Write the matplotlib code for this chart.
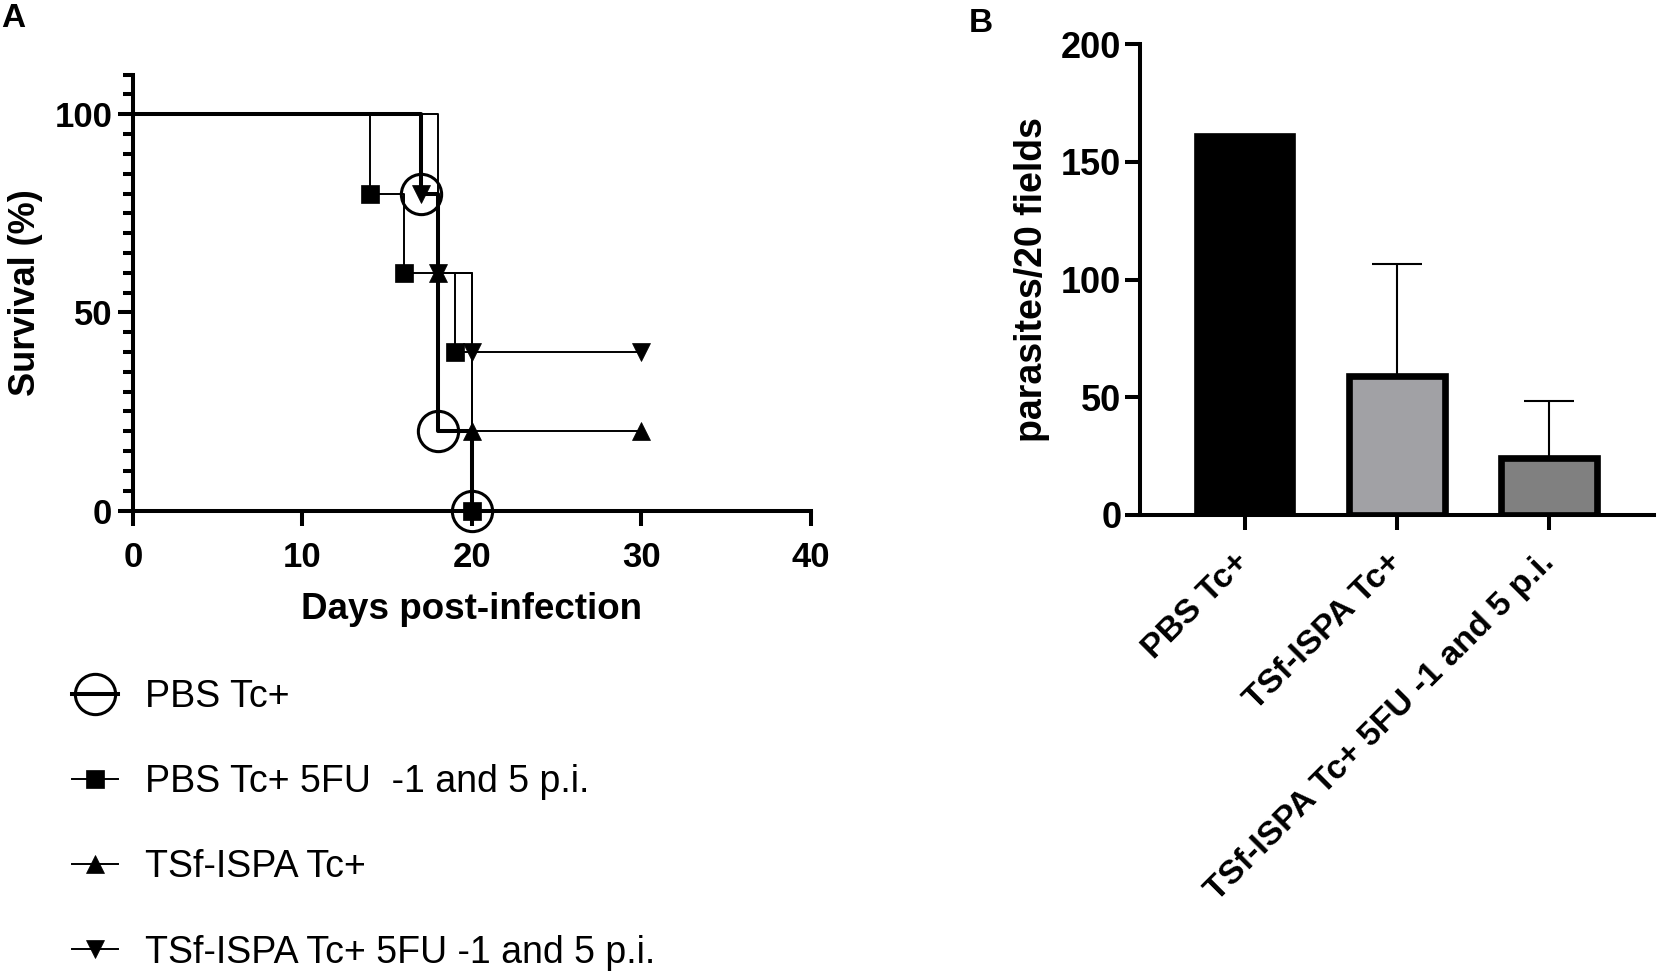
# -*- coding: utf-8 -*-
# survival after infection (A) and parasite counts (B)
import matplotlib
matplotlib.use('Agg')
import matplotlib.pyplot as plt
from matplotlib.ticker import MultipleLocator
from matplotlib.legend_handler import HandlerTuple

plt.rcParams['font.family'] = ['Liberation Sans', 'DejaVu Sans']

# panel A: Kaplan-Meier steps, days post-infection vs % survival
days_pbs = [0, 17, 18, 20]
surv_pbs = [100, 80, 20, 0]
days_pbs_5fu = [0, 14, 16, 19, 20]
surv_pbs_5fu = [100, 80, 60, 40, 0]
days_tsf = [0, 18, 20, 30]
surv_tsf = [100, 60, 20, 20]
days_tsf_5fu = [0, 17, 18, 20, 30]
surv_tsf_5fu = [100, 80, 60, 40, 40]
series_labels = ['PBS Tc+', 'PBS Tc+ 5FU  -1 and 5 p.i.',
                 'TSf-ISPA Tc+', 'TSf-ISPA Tc+ 5FU -1 and 5 p.i.']

# panel B: parasites / 20 fields (mean, upper error)
groups = ['PBS Tc+', 'TSf-ISPA Tc+', 'TSf-ISPA Tc+ 5FU -1 and 5 p.i.']
parasites = [161, 59, 24]
parasites_err = [0, 47.5, 24.3]
bar_colors = ['#000000', '#a1a1a5', '#808080']

fig = plt.figure(figsize=(16.57, 9.73), dpi=100)
ax1 = fig.add_axes([0.0803, 0.4753, 0.409, 0.448])
ax2 = fig.add_axes([0.6877, 0.4709, 0.3105, 0.4835])

# --- A ---
styles = [
    dict(marker='o', ms=29, mfc='none', mew=2.2, lw=2.9),
    dict(marker='s', ms=13, mfc='black', mew=0.5, lw=1.4),
    dict(marker='^', ms=13, mfc='black', mew=0.5, lw=1.4),
    dict(marker='v', ms=13, mfc='black', mew=0.5, lw=1.4),
]
all_days = [days_pbs, days_pbs_5fu, days_tsf, days_tsf_5fu]
all_surv = [surv_pbs, surv_pbs_5fu, surv_tsf, surv_tsf_5fu]
handles = []
for d, s, st in zip(all_days, all_surv, styles):
    line, = ax1.plot(d, s, drawstyle='steps-post', color='black', lw=st['lw'],
                     clip_on=False, zorder=3)
    marks, = ax1.plot(d[1:], s[1:], ls='none', marker=st['marker'], ms=st['ms'],
                      mfc=st['mfc'], mec='black', mew=st['mew'],
                      clip_on=False, zorder=4)
    handles.append((line, marks))

ax1.set_xlim(0, 40)
ax1.set_ylim(0, 110)
ax1.set_xticks([0, 10, 20, 30, 40])
ax1.set_yticks([0, 50, 100])
ax1.yaxis.set_minor_locator(MultipleLocator(5))
ax1.set_xlabel('Days post-infection', fontsize=26.5, fontweight='bold', labelpad=13)
ax1.set_ylabel('Survival (%)', fontsize=26, fontweight='bold', labelpad=8)

# --- B ---
xpos = list(range(len(groups)))
ax2.bar(xpos, parasites, width=0.63, color=bar_colors, edgecolor='black',
        linewidth=4.8, zorder=2)
ex = [x for x, e in zip(xpos, parasites_err) if e > 0]
ey = [v for v, e in zip(parasites, parasites_err) if e > 0]
ee = [e for e in parasites_err if e > 0]
ax2.errorbar(ex, ey, yerr=[[0] * len(ee), ee], fmt='none', ecolor='black',
             elinewidth=1.5, capsize=18, capthick=1.5, zorder=1)
ax2.set_xlim(-0.69, 2.69)
ax2.set_ylim(0, 200)
ax2.set_yticks([0, 50, 100, 150, 200])
ax2.set_xticks(xpos)
ax2.set_xticklabels(groups, rotation=45, ha='right', rotation_mode='anchor',
                    va='center')
ax2.set_ylabel('parasites/20 fields', fontsize=27, fontweight='bold', labelpad=8)

for ax in (ax1, ax2):
    for side in ('top', 'right'):
        ax.spines[side].set_visible(False)
    for side in ('left', 'bottom'):
        ax.spines[side].set_linewidth(2.9)
    ax.tick_params(which='major', direction='out', length=11, width=2.9,
                   labelsize=25)
    ax.tick_params(which='minor', direction='out', length=7, width=2.9)
    for lab in ax.get_xticklabels() + ax.get_yticklabels():
        lab.set_fontweight('bold')

ax1.tick_params(axis='x', pad=11)
ax1.tick_params(axis='y', pad=4)
ax2.tick_params(axis='y', pad=2, labelsize=26)
ax2.tick_params(axis='x', pad=20, labelsize=24.5)

fig.legend(handles, series_labels, handler_map={tuple: HandlerTuple(ndivide=1)},
           loc='upper left', bbox_to_anchor=(0.0435, 0.302), frameon=False,
           fontsize=27, handlelength=1.22, handletextpad=0.72,
           labelspacing=1.31, borderpad=0, borderaxespad=0)

fig.text(0.001, 0.997, 'A', fontsize=24, fontweight='bold', va='top', ha='left')
fig.text(0.5845, 0.992, 'B', fontsize=24, fontweight='bold', va='top', ha='left')

fig.savefig('out.png', dpi=100)
